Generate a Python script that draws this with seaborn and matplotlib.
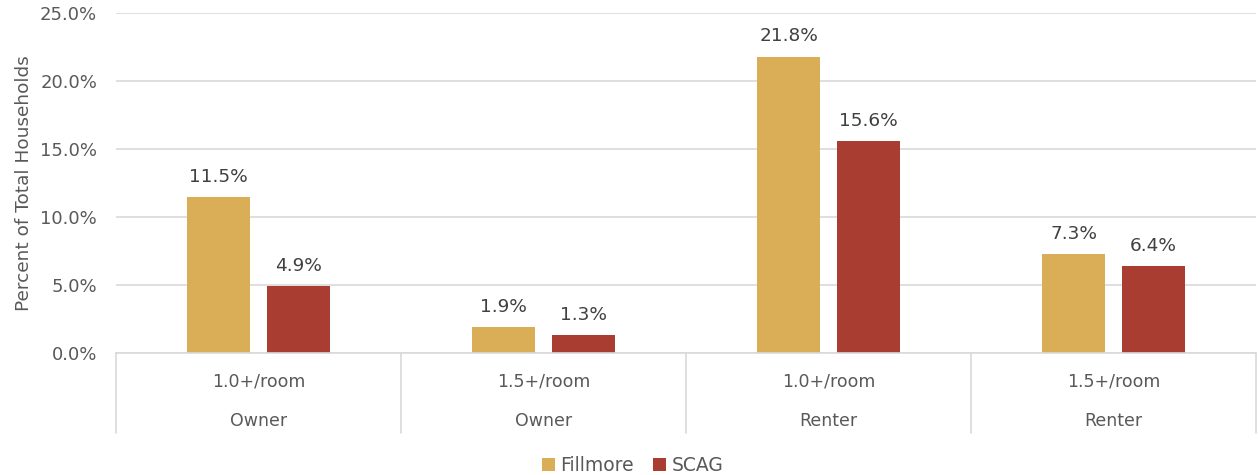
import matplotlib.pyplot as plt
import matplotlib.transforms as mtransforms
import seaborn as sns
import pandas as pd

# data
tenure = ['Owner', 'Owner', 'Renter', 'Renter']
crowding = ['1.0+/room', '1.5+/room', '1.0+/room', '1.5+/room']
fillmore = [11.5, 1.9, 21.8, 7.3]
scag = [4.9, 1.3, 15.6, 6.4]
series = ['Fillmore', 'SCAG']
colors = ['#D9AE57', '#A93D32']

cats = [f'{c}\n{t}' for c, t in zip(crowding, tenure)]
df = pd.DataFrame({
    'cat': cats * 2,
    'value': fillmore + scag,
    'series': [series[0]] * 4 + [series[1]] * 4,
})

sns.set_theme(style='white')
plt.rcParams['font.family'] = ['DejaVu Sans']
text_color = '#595959'
grid_color = '#D9D9D9'

fig = plt.figure(figsize=(12.58, 4.75), dpi=100)
ax = fig.add_axes([0.0922, 0.2568, 0.9062, 0.7158])

sns.barplot(data=df, x='cat', y='value', hue='series', order=cats,
            hue_order=series, palette=colors, width=0.56, gap=0.21,
            saturation=1, linewidth=0, legend=True, ax=ax)

# value labels
for cont in ax.containers:
    ax.bar_label(cont, labels=[f'{v:.1f}%' for v in cont.datavalues],
                 padding=8, fontsize=13.3, color='#404040')

ax.set_ylim(0, 25)
ax.set_xlim(-0.5, len(cats) - 0.5)
ax.set_yticks([0, 5, 10, 15, 20, 25])
ax.set_yticklabels([f'{v:.1f}%' for v in [0, 5, 10, 15, 20, 25]],
                   fontsize=13, color=text_color)
ax.tick_params(axis='y', length=0, pad=13.5)
ax.yaxis.grid(True, color=grid_color, linewidth=1.2)
ax.set_axisbelow(True)
for s in ['top', 'right', 'left']:
    ax.spines[s].set_visible(False)
ax.spines['bottom'].set_color(grid_color)
ax.spines['bottom'].set_linewidth(1.2)
ax.set_ylabel('Percent of Total Households', fontsize=13.3, color=text_color,
              labelpad=5)
ax.set_xlabel('')

# two-level category labels
ax.set_xticks(range(len(cats)))
ax.set_xticklabels([])
ax.tick_params(axis='x', length=0)
trans = mtransforms.blended_transform_factory(ax.transData, ax.transAxes)
for i, (c, t) in enumerate(zip(crowding, tenure)):
    ax.text(i, -0.083, c, transform=trans, ha='center', va='center',
            fontsize=12.5, color=text_color)
    ax.text(i, -0.2, t, transform=trans, ha='center', va='center',
            fontsize=12.5, color=text_color)
for b in [x - 0.5 for x in range(len(cats) + 1)]:
    ax.plot([b, b], [0, -0.235], transform=trans, color=grid_color,
            linewidth=1.2, clip_on=False)

leg = ax.legend(loc='center', bbox_to_anchor=(0.453, -0.33), ncol=2,
                frameon=False, fontsize=13.5, handlelength=0.7,
                handleheight=0.7, handletextpad=0.3, columnspacing=1.0)
for txt in leg.get_texts():
    txt.set_color(text_color)

fig.savefig('out.png', dpi=100)
